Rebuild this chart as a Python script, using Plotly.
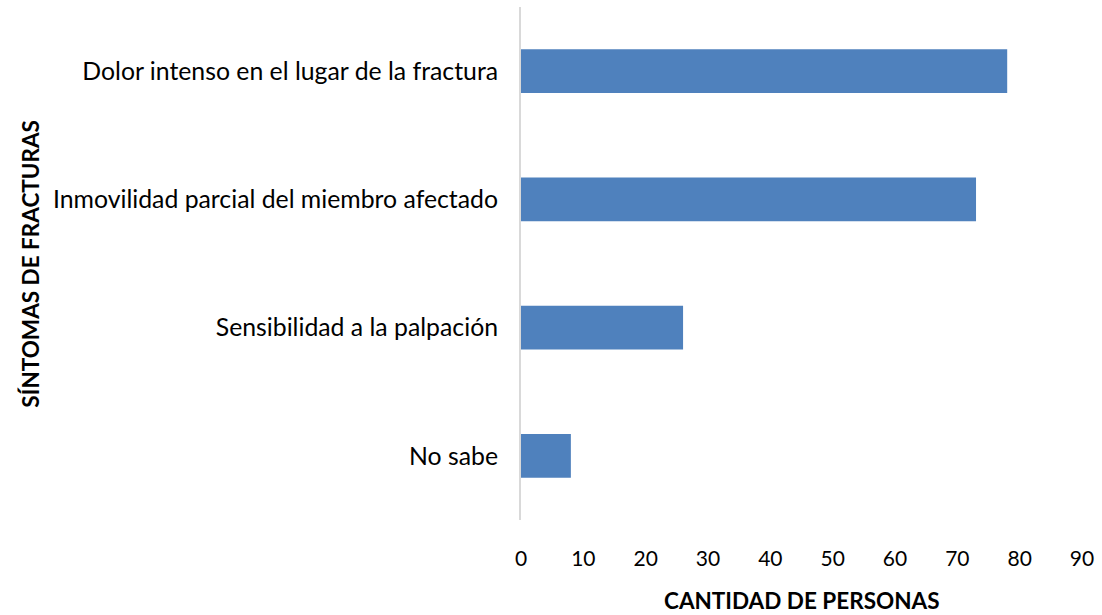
import plotly.graph_objects as go

categories = ["No sabe", "Sensibilidad a la palpación",
              "Inmovilidad parcial del miembro afectado",
              "Dolor intenso en el lugar de la fractura"]
values = [8, 26, 73, 78]
x_ticks = [0, 10, 20, 30, 40, 50, 60, 70, 80, 90]

FONT = "Lato"
FS_CAT = 24.8
FS_TICK = 21
FS_TITLE = 22.5

fig = go.Figure(go.Bar(
    x=values, y=categories, orientation="h",
    marker=dict(color="#4f81bd", line=dict(color="#4f81bd", width=0)),
    width=0.34,
))

fig.update_layout(
    width=1102, height=615,
    paper_bgcolor="white", plot_bgcolor="white",
    margin=dict(l=521, r=20, t=7, b=95, autoexpand=False),
    showlegend=False,
    font=dict(family=FONT, size=FS_CAT, color="#000000"),
    xaxis=dict(range=[0, 90], tickvals=x_ticks, showgrid=False, zeroline=False,
               showline=False, ticks="", ticklabelstandoff=24, automargin=False,
               tickfont=dict(family=FONT, size=FS_TICK, color="#000000")),
    yaxis=dict(showgrid=False, zeroline=False, showline=True, linecolor="#d9d9d9",
               linewidth=2, ticks="", ticklabelstandoff=16, automargin=False,
               tickfont=dict(family=FONT, size=FS_CAT, color="#000000")),
    annotations=[
        dict(text="<b>CANTIDAD DE PERSONAS</b>", xref="paper", yref="paper",
             x=0.5, y=-0.156, yanchor="middle", showarrow=False,
             xanchor="center", font=dict(family=FONT, size=FS_TITLE, color="#000000")),
        dict(text="<b>SÍNTOMAS DE FRACTURAS</b>", xref="paper", yref="paper",
             x=-0.875, y=0.5, textangle=-90, showarrow=False,
             xanchor="center", yanchor="middle",
             font=dict(family=FONT, size=FS_TITLE, color="#000000")),
    ],
)

fig.write_html("out.html", config={"displayModeBar": False},
               post_script="document.body.style.margin='0';")
